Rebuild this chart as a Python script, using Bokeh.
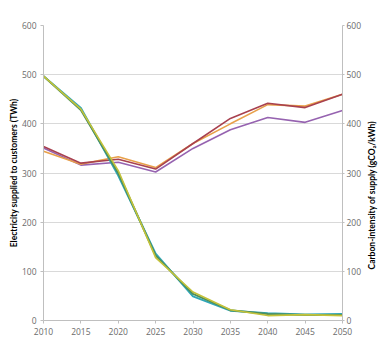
import math
from bokeh.plotting import figure
from bokeh.models import LinearAxis, Range1d, FixedTicker, Title
from bokeh.core.properties import value
from bokeh.layouts import row
from bokeh.embed import file_html
from bokeh.resources import INLINE

years = [2010, 2015, 2020, 2025, 2030, 2035, 2040, 2045, 2050]

# rising series
red_vals = [354, 320, 328, 308, 360, 411, 442, 433, 460]
orange_vals = [344, 318, 333, 311, 360, 400, 439, 436, 460]
purple_vals = [351, 316, 322, 302, 350, 388, 413, 403, 427]

# falling series
yellow_vals = [497, 430, 305, 128, 58, 22, 10, 12, 10]
green_vals = [497, 428, 300, 132, 54, 21, 13, 11, 11]
teal_vals = [497, 432, 295, 136, 49, 20, 15, 12, 13]

y_ticks = [0, 100, 200, 300, 400, 500, 600]
x_ticks = [2010, 2015, 2020, 2025, 2030, 2035, 2040, 2045, 2050]

left_title = "Electricity supplied to customers (TWh)"
right_title = "Carbon-intensity of supply (gCO\u2082/kWh)"

FONT = "Open Sans"
TITLE_FONT = "Lato"
TICK_COLOR = "#6b6b6b"
H = 339
MAIN_W = 364
SIDE_W = 385 - MAIN_W

p = figure(width=MAIN_W, height=H, output_backend="svg", toolbar_location=None,
           x_range=Range1d(2010, 2050), y_range=Range1d(0, 600),
           min_border_left=43, min_border_right=20, min_border_top=25, min_border_bottom=19)
p.extra_y_ranges = {"ci": Range1d(0, 600)}
p.outline_line_color = None
p.background_fill_color = "white"
p.border_fill_color = "white"

p.xgrid.grid_line_color = None
p.ygrid.grid_line_color = "#d9d9d9"
p.ygrid.grid_line_width = 1
p.ygrid.ticker = FixedTicker(ticks=y_ticks)

for ax in [p.xaxis[0], p.yaxis[0]]:
    ax.major_label_text_font = FONT
    ax.major_label_text_font_size = "8.5px"
    ax.major_label_text_color = TICK_COLOR
    ax.axis_line_color = "#bfbfbf"
    ax.major_tick_line_color = "#bfbfbf"
    ax.minor_tick_line_color = None
    ax.major_tick_out = 3
    ax.major_tick_in = 0

p.xaxis.ticker = FixedTicker(ticks=x_ticks)
p.xaxis.major_label_standoff = 4
p.yaxis.ticker = FixedTicker(ticks=y_ticks)
p.yaxis.major_label_standoff = 4

right = LinearAxis(y_range_name="ci", ticker=FixedTicker(ticks=y_ticks))
right.major_label_text_font = FONT
right.major_label_text_font_size = "8.5px"
right.major_label_text_color = TICK_COLOR
right.axis_line_color = "#bfbfbf"
right.major_tick_line_color = "#bfbfbf"
right.minor_tick_line_color = None
right.major_tick_out = 2
right.major_tick_in = 0
right.major_label_standoff = 2
p.add_layout(right, "right")

lt = Title(text=left_title, align="center", offset=-35, text_font=TITLE_FONT,
           text_font_size="8.5px", text_font_style="bold", text_color="black",
           standoff=0)
p.add_layout(lt, "left")

p.line(years, purple_vals, line_color="#9663b0", line_width=1.6, y_range_name="ci")
p.line(years, orange_vals, line_color="#e8a04a", line_width=1.6, y_range_name="ci")
p.line(years, red_vals, line_color="#a8414f", line_width=1.6, y_range_name="ci")

p.line(years, teal_vals, line_color="#2fa6b8", line_width=2)
p.line(years, green_vals, line_color="#4e8f5c", line_width=2)
p.line(years, yellow_vals, line_color="#c4c23a", line_width=1.6)

# side panel holding the right-hand axis title (reads bottom-to-top)
side = figure(width=SIDE_W, height=H, output_backend="svg", toolbar_location=None,
              x_range=Range1d(0, SIDE_W), y_range=Range1d(0, H),
              x_axis_type=None, y_axis_type=None,
              min_border_left=0, min_border_right=0, min_border_top=0, min_border_bottom=0)
side.outline_line_color = None
side.grid.grid_line_color = None
side.background_fill_color = "white"
side.border_fill_color = "white"
side.text(x=[7], y=[H - 195], text=[right_title], angle=math.pi / 2,
          text_align="center", text_baseline="middle",
          text_font=value(TITLE_FONT), text_font_size=value("8.5px"),
          text_font_style="bold", text_color="black")

layout = row(p, side, spacing=0)
open("out.html", "w").write(file_html(layout, INLINE))
